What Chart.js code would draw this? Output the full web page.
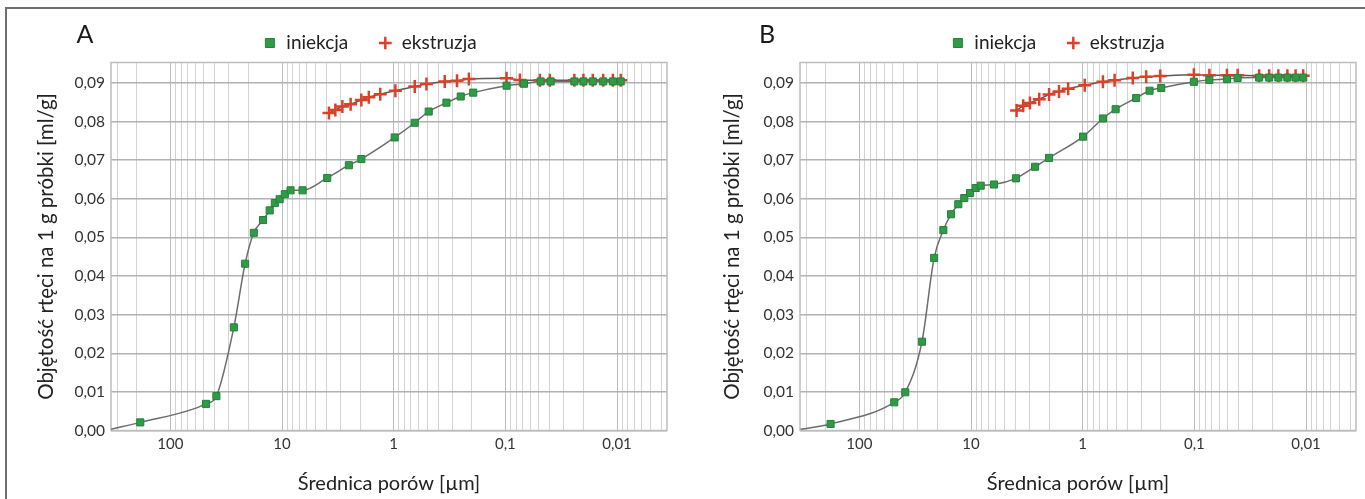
<!DOCTYPE html>
<html>
<head>
<meta charset="utf-8">
<script src="https://cdn.jsdelivr.net/npm/chart.js@4.4.1/dist/chart.umd.min.js"></script>
<style>
  html, body { margin: 0; padding: 0; background: #fff; overflow: hidden; }
  body { width: 1365px; height: 499px; position: relative; }
  .frame { position: absolute; left: 5px; top: 7px; width: 1380px; height: 510px;
           border-top: 2px solid #6e6e6e; border-left: 2px solid #6e6e6e; }
  .panel { position: absolute; top: 0; height: 499px; }
  #panelA { left: 0; width: 682px; }
  #panelB { left: 682px; width: 683px; }
</style>
</head>
<body>
<div class="frame"></div>
<div class="panel" id="panelA"><canvas id="chartA"></canvas></div>
<div class="panel" id="panelB"><canvas id="chartB"></canvas></div>
<script>
// pore diameter [um] and intruded volume [ml/g]
// first injection point is where the curve leaves the corner (no marker)
const injDiamA = [340, 186, 47.9, 38.7, 27.0, 21.4, 17.9, 14.8, 12.9, 11.6, 10.5, 9.44, 8.39, 6.55, 3.94, 2.52, 1.95, 0.98, 0.648, 0.486, 0.337, 0.251, 0.194, 0.0976, 0.0682, 0.0483, 0.0393, 0.0241, 0.0200, 0.0165, 0.0133, 0.0109, 0.00927];
const injVolA  = [0.0003, 0.0021, 0.0069, 0.0089, 0.0267, 0.0432, 0.0512, 0.0545, 0.0570, 0.0589, 0.0599, 0.0612, 0.0622, 0.0622, 0.0654, 0.0687, 0.0703, 0.0759, 0.0797, 0.0826, 0.0849, 0.0865, 0.0875, 0.0893, 0.0898, 0.0904, 0.0904, 0.0904, 0.0904, 0.0904, 0.0904, 0.0904, 0.0904];
const extDiamA = [3.80, 3.33, 2.88, 2.43, 1.95, 1.67, 1.32, 0.966, 0.648, 0.509, 0.349, 0.271, 0.212, 0.0976, 0.0741, 0.0491, 0.040, 0.0241, 0.0200, 0.0165, 0.0133, 0.0109, 0.00927];
const extVolA  = [0.0822, 0.0830, 0.0839, 0.0845, 0.0856, 0.0863, 0.0871, 0.0880, 0.0891, 0.0897, 0.0904, 0.0906, 0.0910, 0.0912, 0.0908, 0.0907, 0.0907, 0.0907, 0.0907, 0.0907, 0.0907, 0.0907, 0.0907];

const injDiamB = [335, 181, 48.7, 38.8, 27.5, 21.4, 17.7, 15.1, 13.0, 11.5, 10.2, 9.08, 8.19, 6.23, 3.96, 2.67, 2.00, 0.993, 0.659, 0.507, 0.332, 0.252, 0.198, 0.101, 0.0734, 0.0511, 0.041, 0.0263, 0.0214, 0.0177, 0.0147, 0.0124, 0.0106];
const injVolB  = [0.0003, 0.0017, 0.0073, 0.0099, 0.0230, 0.0447, 0.0519, 0.0560, 0.0586, 0.0602, 0.0615, 0.0628, 0.0634, 0.0637, 0.0653, 0.0683, 0.0706, 0.0761, 0.0808, 0.0832, 0.0861, 0.0880, 0.0887, 0.0903, 0.0908, 0.0910, 0.0913, 0.0914, 0.0914, 0.0914, 0.0914, 0.0914, 0.0914];
const extDiamB = [3.91, 3.41, 2.97, 2.45, 2.00, 1.63, 1.35, 0.959, 0.659, 0.518, 0.356, 0.270, 0.202, 0.101, 0.0734, 0.0511, 0.041, 0.0263, 0.0214, 0.0177, 0.0147, 0.0124, 0.0106];
const extVolB  = [0.0829, 0.0841, 0.0848, 0.0858, 0.0870, 0.0878, 0.0885, 0.0894, 0.0903, 0.0907, 0.0913, 0.0916, 0.0918, 0.0921, 0.0920, 0.0920, 0.0920, 0.0919, 0.0919, 0.0919, 0.0919, 0.0919, 0.0919];

const seriesNames = ['iniekcja', 'ekstruzja'];
const xTickValues = [100, 10, 1, 0.1, 0.01];
const xTickLabels = ['100', '10', '1', '0,1', '0,01'];
const xTitle = 'Średnica porów [µm]';
const yTitle = 'Objętość rtęci na 1 g próbki [ml/g]';

const X_MIN = 0.00357, X_MAX = 340;
const Y_MAX = 0.0953;

Chart.defaults.font.family = 'Lato, "Open Sans", sans-serif';
Chart.defaults.color = '#222';

// log grid: 1..9 x 10^k inside the axis range
const gridValues = [];
for (let k = -3; k <= 2; k++) {
    for (let m = 1; m <= 9; m++) {
        const v = m * Math.pow(10, k);
        if (v > X_MIN && v < X_MAX) gridValues.push(v);
    }
}
const isDecade = v => Math.abs(Math.log10(v) - Math.round(Math.log10(v))) < 1e-6;

// panel letter drawn in the top-left corner
const panelLetter = {
    id: 'panelLetter',
    afterDraw(chart, args, opts) {
        const ctx = chart.ctx;
        ctx.save();
        ctx.font = '25px Lato, sans-serif';
        ctx.fillStyle = '#1a1a1a';
        ctx.textAlign = 'center';
        ctx.textBaseline = 'middle';
        ctx.fillText(opts.text, opts.x, opts.y);
        ctx.restore();
    }
};

// box around the plot area
const plotFrame = {
    id: 'plotFrame',
    beforeDatasetsDraw(chart) {
        const {ctx, chartArea: a} = chart;
        ctx.save();
        ctx.strokeStyle = '#bdbdbd';
        ctx.lineWidth = 1.5;
        ctx.strokeRect(a.left, a.top, a.right - a.left, a.bottom - a.top);
        ctx.restore();
    }
};

// legend sits a bit left of the centre in the original
const legendShift = {
    id: 'legendShift',
    afterLayout(chart, args, opts) {
        if (chart.legend) {
            chart.legend.left += opts.dx;
            chart.legend.right += opts.dx;
        }
    }
};

function makeChart(canvasId, letter, injD, injV, extD, extV, pad, yWidth) {
    const injPts = injD.map((d, i) => ({x: d, y: injV[i]}));
    const extPts = extD.map((d, i) => ({x: d, y: extV[i]}));
    return new Chart(document.getElementById(canvasId), {
        type: 'line',
        data: {
            datasets: [{
                label: seriesNames[0],
                data: injPts,
                borderColor: '#6c6c6c',
                borderWidth: 1.5,
                cubicInterpolationMode: 'monotone',
                pointStyle: 'rect',
                pointRadius: injPts.map((p, i) => i === 0 ? 0 : 5),
                pointBackgroundColor: '#2f9c45',
                pointBorderColor: '#22813a',
                pointBorderWidth: 1
            }, {
                label: seriesNames[1],
                data: extPts,
                borderColor: '#5a5a5a',
                borderWidth: 1.5,
                cubicInterpolationMode: 'monotone',
                pointStyle: 'cross',
                pointRadius: 6.5,
                pointBackgroundColor: '#dc4029',
                pointBorderColor: '#dc4029',
                pointBorderWidth: 2.5
            }]
        },
        options: {
            responsive: true,
            maintainAspectRatio: false,
            animation: false,
            layout: { padding: pad },
            plugins: {
                legend: {
                    position: 'top',
                    labels: {
                        usePointStyle: true,
                        boxWidth: 14,
                        boxHeight: 9,
                        padding: 30,
                        color: '#222',
                        font: { size: 19 }
                    }
                },
                tooltip: { enabled: false },
                panelLetter: { text: letter, x: 85, y: 35 },
                legendShift: { dx: 19 }
            },
            scales: {
                x: {
                    type: 'logarithmic',
                    reverse: true,
                    min: X_MIN,
                    max: X_MAX,
                    afterBuildTicks: s => { s.ticks = gridValues.map(v => ({value: v})); },
                    afterFit: s => { s.height = 65; },
                    ticks: {
                        autoSkip: false,
                        maxRotation: 0,
                        padding: 5,
                        color: '#333',
                        font: { size: 15 },
                        callback: v => {
                            const i = xTickValues.findIndex(t => Math.abs(Math.log10(t) - Math.log10(v)) < 1e-6);
                            return i >= 0 ? xTickLabels[i] : '';
                        }
                    },
                    grid: {
                        drawTicks: false,
                        color: c => isDecade(c.tick.value) ? '#bcbcbc' : '#d3d3d3',
                        lineWidth: 1
                    },
                    border: { display: false },
                    title: { display: true, text: xTitle, color: '#222', font: { size: 20 }, padding: 0 }
                },
                y: {
                    min: 0,
                    max: Y_MAX,
                    afterFit: s => { s.width = yWidth; },
                    ticks: {
                        stepSize: 0.01,
                        includeBounds: false,
                        padding: 6,
                        color: '#333',
                        font: { size: 15.5 },
                        callback: v => v.toFixed(2).replace('.', ',')
                    },
                    grid: { drawTicks: false, color: '#b2b2b2', lineWidth: 1.5 },
                    border: { display: false },
                    title: { display: true, text: yTitle, color: '#222', font: { size: 20.5 }, padding: 0 }
                }
            }
        },
        plugins: [panelLetter, plotFrame, legendShift]
    });
}

makeChart('chartA', 'A', injDiamA, injVolA, extDiamA, extVolA,
    { left: 34.5, right: 15, top: 3.5, bottom: 3.5 }, 76.5);
makeChart('chartB', 'B', injDiamB, injVolB, extDiamB, extVolB,
    { left: 38.5, right: 8, top: 3.5, bottom: 3.5 }, 79.5);
</script>
</body>
</html>
